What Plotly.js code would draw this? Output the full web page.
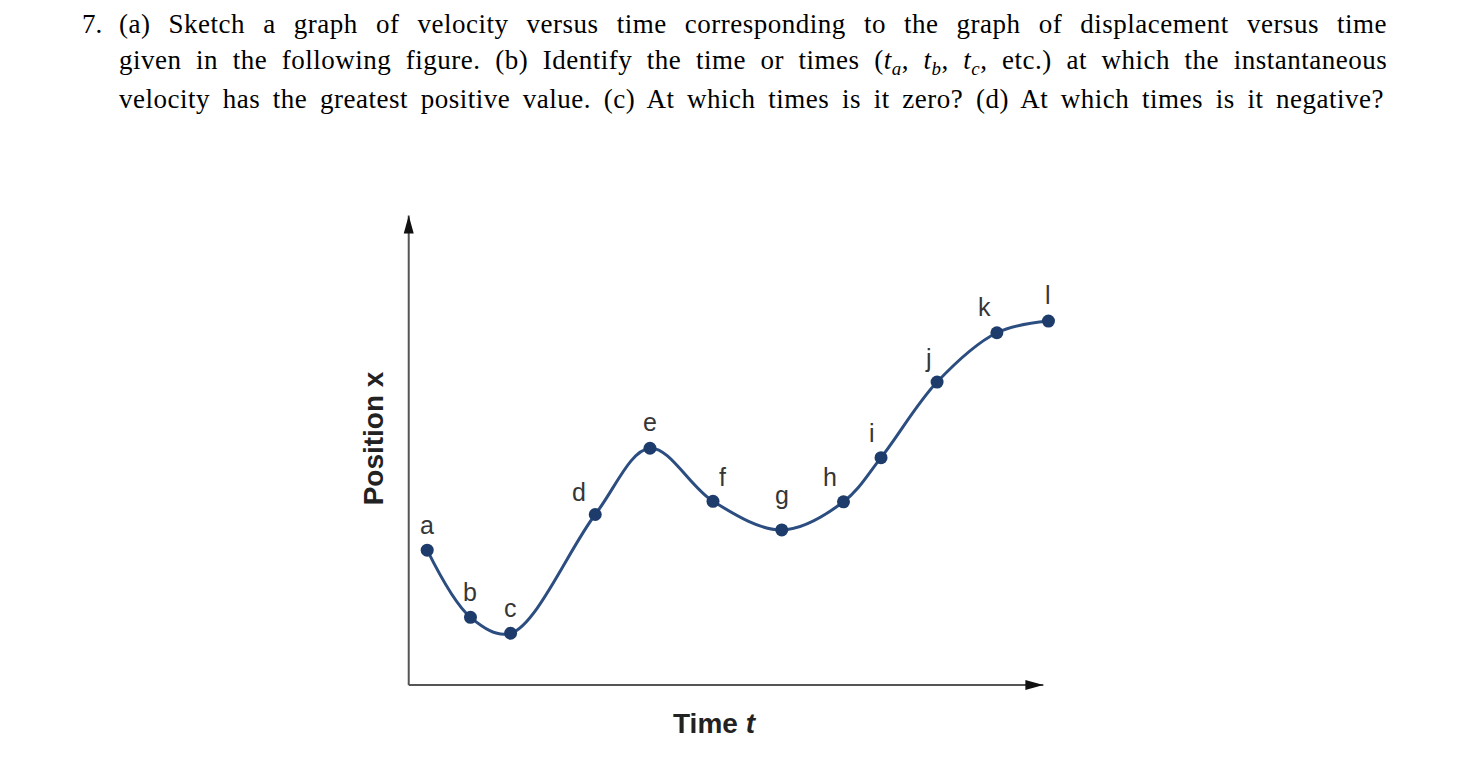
<!DOCTYPE html>
<html><head><meta charset="utf-8">
<script src="https://cdn.plot.ly/plotly-3.0.1.min.js"></script>
<style>html,body{margin:0;padding:0;background:#fff}#chart{width:1468px;height:772px}</style>
</head><body><div id="chart"></div>
<script>
// ---------- data ----------
const pointLabels = ['a','b','c','d','e','f','g','h','i','j','k','l'];
const timeValues = [0.29, 0.97, 1.60, 2.93, 3.79, 4.78, 5.86, 6.83, 7.42, 8.30, 9.24, 10.05];
const positionValues = [2.87, 1.44, 1.10, 3.63, 5.04, 3.91, 3.30, 3.90, 4.84, 6.45, 7.50, 7.75];
const xAxisTitle = 'Time <i>t</i>';
const yAxisTitle = 'Position x';
const questionNumber = '7.';
const questionLines = [
  '(a) Sketch a graph of velocity versus time corresponding to the graph of displacement versus time',
  'given in the following figure. (b) Identify the time or times (<i>t</i><sub><i>a</i></sub>, <i>t</i><sub><i>b</i></sub>, <i>t</i><sub><i>c</i></sub>, etc.) at which the instantaneous',
  'velocity has the greatest positive value. (c) At which times is it zero? (d) At which times is it negative?'
];
const axisEnds = {x: 9.97, y: 10};

// ---------- layout geometry (style) ----------
const FIG_W = 1468, FIG_H = 772;
const M = {l: 396.28, r: 410.28, t: 205.6, b: 72.9};
const PW = FIG_W - M.l - M.r, PH = FIG_H - M.t - M.b;
const paperX = p => (p - M.l) / PW;
const paperY = p => (FIG_H - M.b - p) / PH;

// label offsets: [dx px, baseline rise px]
const labelOffsets = [[0,16],[0,16],[0,16],[-16,12.5],[0,16.5],[9,15],[0,25],[-13,15],[-9,15.5],[-9,15],[-12,16],[0,17]];

const LINE_COLOR = '#2b4d80';
const MARKER_COLOR = '#1e3c6b';
const LABEL_FONT = {family: 'Liberation Sans, Arial, sans-serif', size: 25, color: '#363636'};
const AXIS_FONT = {family: 'Liberation Sans, Arial, sans-serif', size: 28, color: '#222'};
const SERIF = 'Liberation Serif';
const TEXT_SIZE = 27;
const LETTER_SP = 0.5;

// ---------- justification of the question text ----------
const cv = document.createElement('canvas').getContext('2d');
function measureHTML(html) {
  let w = 0, spaces = 0, chars = 0;
  const re = /<sub><i>(.*?)<\/i><\/sub>|<i>(.*?)<\/i>|([^<]+)/g;
  let m;
  while ((m = re.exec(html)) !== null) {
    let txt, font;
    if (m[1] !== undefined) { txt = m[1]; font = `italic ${TEXT_SIZE*0.7}px "${SERIF}"`; }
    else if (m[2] !== undefined) { txt = m[2]; font = `italic ${TEXT_SIZE}px "${SERIF}"`; }
    else { txt = m[3]; font = `${TEXT_SIZE}px "${SERIF}"`; }
    cv.font = font;
    w += cv.measureText(txt).width;
    spaces += (txt.match(/ /g) || []).length;
    chars += txt.length;
  }
  return {w, spaces, chars};
}
const lineLeft = 118, lineRight = 1386;
const lineBaselines = [33, 70.5, 107.5];
const textAnnotations = questionLines.map((ln, i) => {
  const ms = measureHTML(ln);
  const natural = ms.w + ms.chars * LETTER_SP;
  const ws = Math.max(0, (lineRight - lineLeft - natural) / ms.spaces);
  return {
    xref: 'paper', yref: 'paper', x: paperX(lineLeft), y: paperY(lineBaselines[i] - TEXT_SIZE*0.3375),
    xanchor: 'left', yanchor: 'middle', showarrow: false,
    text: `<span style="word-spacing:${ws.toFixed(2)}px;letter-spacing:${LETTER_SP}px">${ln}</span>`,
    font: {family: SERIF, size: TEXT_SIZE, color: '#000'}
  };
});
textAnnotations.push({
  xref: 'paper', yref: 'paper', x: paperX(80.5), y: paperY(lineBaselines[0] - TEXT_SIZE*0.3375),
  xanchor: 'left', yanchor: 'middle', showarrow: false,
  text: questionNumber, font: {family: SERIF, size: TEXT_SIZE, color: '#000'}
});

// ---------- point labels ----------
const labelAnnotations = pointLabels.map((lab, i) => ({
  xref: 'x', yref: 'y', x: timeValues[i], y: positionValues[i],
  text: lab, showarrow: false, xanchor: 'center', yanchor: 'bottom',
  xshift: labelOffsets[i][0], yshift: labelOffsets[i][1] - 6.5,
  font: LABEL_FONT
}));

// ---------- axis titles ----------
const axisTitleAnnotations = [
  {xref: 'paper', yref: 'paper', x: paperX(715), y: paperY(723.5), xanchor: 'center', yanchor: 'middle',
   showarrow: false, text: '<b>' + xAxisTitle + '</b>', font: AXIS_FONT},
  {xref: 'paper', yref: 'paper', x: paperX(373.5), y: paperY(438), xanchor: 'center', yanchor: 'middle',
   showarrow: false, textangle: -90, text: '<b>' + yAxisTitle + '</b>', font: AXIS_FONT}
];

// ---------- axes drawn as arrows ----------
const AX_COLOR = '#555';
const HEAD_COLOR = '#111';
const shapes = [
  {type: 'line', xref: 'x', yref: 'y', x0: 0, y0: 0, x1: axisEnds.x, y1: 0, line: {color: AX_COLOR, width: 2}},
  {type: 'line', xref: 'x', yref: 'y', x0: 0, y0: 0, x1: 0, y1: axisEnds.y, line: {color: AX_COLOR, width: 2}},
  {type: 'path', xref: 'x', yref: 'y', xsizemode: 'pixel', ysizemode: 'pixel', xanchor: axisEnds.x, yanchor: 0,
   path: 'M 0 0 L -18 5 L -18 -5 Z', fillcolor: HEAD_COLOR, line: {width: 0}},
  {type: 'path', xref: 'x', yref: 'y', xsizemode: 'pixel', ysizemode: 'pixel', xanchor: 0, yanchor: axisEnds.y,
   path: 'M 0 0 L -5 -18 L 5 -18 Z', fillcolor: HEAD_COLOR, line: {width: 0}}
];

const trace = {
  type: 'scatter', mode: 'lines+markers',
  x: timeValues, y: positionValues, text: pointLabels,
  line: {shape: 'spline', smoothing: 1.0, color: LINE_COLOR, width: 3},
  marker: {size: 13, color: MARKER_COLOR},
  cliponaxis: false, hoverinfo: 'none'
};

const layout = {
  width: FIG_W, height: FIG_H,
  margin: M, paper_bgcolor: '#fff', plot_bgcolor: 'rgba(0,0,0,0)',
  showlegend: false,
  xaxis: {range: [-0.2, 10.2], visible: false, fixedrange: true},
  yaxis: {range: [-0.3, 10.2], visible: false, fixedrange: true},
  shapes: shapes,
  annotations: textAnnotations.concat(labelAnnotations, axisTitleAnnotations)
};

Plotly.newPlot('chart', [trace], layout, {staticPlot: true, displayModeBar: false});
</script>
</body></html>
